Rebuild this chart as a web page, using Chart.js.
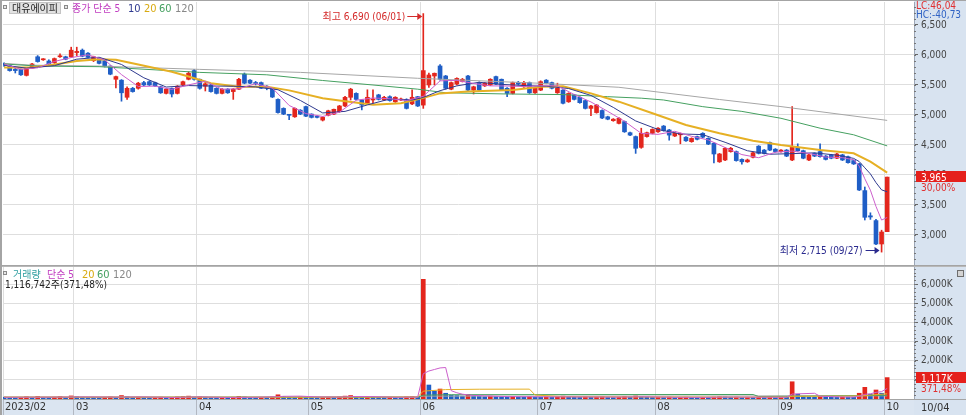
<!DOCTYPE html>
<html>
<head>
<meta charset="utf-8">
<title>대유에이피</title>
<script src="https://cdn.jsdelivr.net/npm/chart.js@4.4.1/dist/chart.umd.min.js"></script>
<style>
  body { margin: 0; background: #fff; }
  #wrap { position: relative; width: 966px; height: 415px; overflow: hidden; }
  canvas { position: absolute; left: 0; }
  #price { top: 0; }
  #volume { top: 266px; }
</style>
</head>
<body>
<div id="wrap">
  <canvas id="price" width="966" height="266"></canvas>
  <canvas id="volume" width="966" height="149"></canvas>
</div>
<script>
// daily candles, 2023-02-10 .. 2023-10-04 (one entry per trading day)
const priceOpen = [5860,5820,5760,5760,5660,5780,5970,5920,5900,5870,
  5970,5970,5970,6040,6080,6030,5905,5945,5905,5815,
  5595,5580,5295,5445,5445,5540,5555,5540,5470,5360,
  5445,5360,5500,5595,5740,5595,5480,5500,5445,5360,
  5430,5390,5430,5680,5580,5535,5540,5480,5445,5260,
  5110,5005,4970,5080,5140,5015,4980,4915,4995,5015,
  5055,5150,5295,5360,5250,5195,5250,5335,5250,5305,
  5220,5250,5260,5185,5305,5165,5500,5650,5817,5650,
  5430,5515,5560,5650,5415,5540,5485,5500,5640,5595,
  5445,5360,5540,5470,5540,5370,5415,5580,5540,5370,
  5415,5220,5335,5295,5240,5110,5040,5075,4970,4905,
  4860,4890,4705,4640,4460,4640,4695,4720,4815,4750,
  4650,4670,4630,4555,4640,4695,4610,4530,4220,4250,
  4390,4390,4260,4220,4295,4480,4415,4540,4430,4390,
  4415,4250,4460,4405,4250,4360,4390,4315,4335,4280,
  4335,4305,4240,4185,3740,3320,3240,2850,3055];
const priceHigh = [5870,5830,5790,5770,5790,5860,5990,5940,5920,5950,
  6020,5980,6130,6130,6100,6040,5980,5950,5910,5820,
  5650,5590,5470,5460,5545,5560,5570,5550,5480,5440,
  5450,5490,5565,5720,5760,5600,5560,5510,5455,5440,
  5440,5440,5610,5700,5590,5560,5550,5490,5450,5270,
  5120,5010,5120,5090,5150,5020,4990,4970,5080,5100,
  5160,5310,5445,5370,5260,5420,5420,5345,5310,5320,
  5305,5280,5270,5420,5310,6690,5700,5700,5840,5660,
  5550,5620,5610,5660,5480,5550,5540,5605,5650,5600,
  5455,5550,5560,5560,5550,5465,5570,5590,5550,5530,
  5425,5370,5345,5305,5250,5160,5175,5085,4980,4940,
  4955,4900,4715,4650,4780,4715,4770,4790,4825,4760,
  4705,4700,4640,4620,4650,4705,4620,4540,4360,4455,
  4460,4400,4270,4265,4380,4490,4425,4550,4440,4425,
  4425,5140,4520,4415,4345,4370,4520,4325,4345,4360,
  4345,4315,4250,4195,3800,3370,3260,3080,3965];
const priceLow = [5810,5730,5700,5660,5650,5770,5880,5910,5830,5860,
  5960,5920,5960,5990,5970,5950,5890,5850,5800,5670,
  5450,5230,5260,5380,5430,5490,5490,5475,5360,5350,
  5300,5350,5490,5585,5580,5430,5400,5380,5350,5350,
  5360,5260,5420,5520,5520,5500,5440,5420,5290,5030,
  5005,4920,4960,5005,4970,4950,4950,4900,4985,5005,
  5045,5140,5250,5250,5085,5180,5200,5250,5240,5230,
  5210,5240,5100,5170,5140,5110,5460,5500,5580,5430,
  5420,5500,5550,5400,5350,5400,5475,5490,5505,5405,
  5305,5350,5500,5460,5360,5360,5405,5520,5435,5360,
  5185,5210,5250,5195,5100,4990,5030,4940,4920,4895,
  4850,4710,4655,4360,4445,4630,4685,4710,4730,4580,
  4640,4520,4560,4545,4585,4620,4505,4200,4210,4240,
  4380,4230,4180,4210,4285,4350,4350,4405,4380,4380,
  4305,4240,4395,4270,4240,4305,4295,4250,4270,4270,
  4240,4195,4175,3740,3250,3260,2840,2715,3055];
const priceClose = [5830,5740,5740,5670,5780,5850,5890,5930,5850,5940,
  5985,5930,6080,6060,5980,5960,5970,5860,5815,5680,
  5640,5370,5445,5390,5530,5500,5500,5485,5370,5430,
  5350,5480,5555,5695,5595,5445,5520,5390,5360,5430,
  5370,5430,5595,5530,5530,5525,5445,5445,5300,5040,
  5015,4995,5110,5015,4980,4960,4960,4960,5070,5095,
  5150,5295,5430,5260,5165,5295,5265,5260,5295,5240,
  5295,5265,5110,5295,5150,5740,5667,5695,5595,5445,
  5540,5610,5595,5415,5470,5415,5530,5595,5515,5415,
  5360,5540,5515,5540,5370,5455,5555,5530,5445,5445,
  5195,5360,5260,5205,5110,5150,5165,4950,4930,4930,
  4945,4720,4665,4445,4695,4705,4760,4780,4740,4665,
  4695,4685,4570,4610,4595,4630,4515,4350,4350,4445,
  4445,4240,4220,4250,4370,4360,4360,4415,4390,4415,
  4315,4460,4405,4280,4335,4315,4305,4260,4280,4350,
  4250,4205,4185,3750,3295,3300,2850,3050,3965];
// volume in thousands of shares
const volume = [95,70,60,85,120,90,140,80,75,100,130,85,160,
  120,95,80,70,65,90,110,85,180,120,90,100,70,60,75,95,70,85,110,130,150,100,
  120,95,80,70,75,65,90,140,110,80,70,85,75,110,220,140,100,85,110,90,
  80,70,85,95,90,110,150,180,120,100,130,105,90,80,95,85,70,110,130,100,
  6245,730,420,520,300,200,180,150,230,160,140,120,150,130,110,100,140,110,95,120,100,
  90,110,85,100,150,120,95,85,110,90,100,130,85,75,90,140,100,160,120,95,85,
  90,80,100,75,85,95,80,70,90,85,100,120,110,95,100,80,90,85,110,95,100,80,
  110,100,900,250,140,110,95,130,100,90,85,110,100,95,300,610,250,470,300.62,
  1116.742];

// moving averages: [day index, value]
const ma5 = [[0,5850],[3,5760],[6,5786],[9,5892],[12,5957],[15,6002],[18,5917],[21,5673],[24,5475],[27,5481],
  [30,5427],[33,5502],[36,5562],[39,5429],[42,5437],[45,5522],[48,5449],[51,5159],[54,5023],[57,4975],
  [60,5047],[63,5246],[66,5283],[69,5271],[72,5241],[75,5312],[78,5569],[81,5577],[84,5526],[87,5485],
  [90,5483],[93,5474],[96,5487],[99,5486],[102,5341],[105,5217],[108,5061],[111,4895],[114,4694],[117,4677],
  [120,4728],[123,4645],[126,4584],[129,4458],[132,4340],[135,4288],[138,4379],[141,4399],[144,4359],[147,4299],
  [150,4289],[152,4254],[153,4148],[154,3937],[155,3747],[156,3476],[157,3249],[158,3292]];
const ma10 = [[0,5830],[4,5780],[9,5822],[13,5930],[17,5962],[21,5842],[25,5620],[29,5466],[33,5490],[37,5483],
  [41,5479],[45,5468],[49,5421],[53,5242],[57,5034],[61,5060],[65,5168],[69,5266],[73,5249],[75,5292],
  [78,5405],[81,5485],[85,5545],[89,5510],[93,5490],[97,5480],[101,5441],[105,5326],[109,5126],[113,4901],
  [117,4758],[121,4684],[125,4673],[129,4545],[133,4404],[137,4346],[141,4356],[145,4369],[149,4331],[152,4277],
  [153,4224],[154,4120],[155,4018],[156,3873],[157,3752],[158,3720]];
const ma20 = [[0,5790],[5,5790],[9,5840],[13,5900],[17,5930],[20,5920],[24,5840],[30,5720],[33,5640],[37,5530],
  [42,5470],[47,5470],[51,5410],[57,5280],[60,5240],[66,5170],[71,5195],[74,5260],[78,5360],[83,5390],
  [91,5415],[96,5470],[100,5480],[105,5360],[110,5222],[116,5028],[122,4833],[128,4695],[134,4572],[139,4500],
  [146,4417],[152,4361],[155,4222],[158,4040]];
const ma60 = [[0,5850],[6,5815],[17,5805],[35,5710],[47,5670],[57,5575],[66,5500],[74,5430],[79,5370],[90,5350],
  [100,5340],[108,5305],[114,5280],[118,5250],[125,5139],[132,5060],[139,4945],[146,4780],[152,4670],[158,4485]];
const ma120 = [[0,5860],[5,5830],[17,5815],[35,5760],[53,5710],[74,5612],[96,5528],[110,5462],[128,5258],[139,5140],[158,4910]];

const volMa5 = [[0,90],[5,95],[10,100],[15,110],[20,100],[25,110],[30,80],[35,110],[40,80],[45,90],[49,120],[50,140],
  [53,150],[56,110],[60,100],[63,130],[66,125],[70,90],[74,100],[75,1320],[76,1460],[77,1540],[78,1620],[79,1643],
  [80,434],[81,326],[82,252],[83,212],[84,184],[86,165],[90,125],[95,115],[100,110],[105,105],[110,100],[115,115],
  [120,90],[125,85],[130,100],[135,95],[140,90],[141,258],[145,299],[146,145],[150,105],[152,100],[153,138],
  [154,243],[155,271],[156,345],[157,386],[158,549]];
const volMa20 = [[0,100],[20,100],[40,95],[60,100],[74,105],[75,410],[79,490],[85,510],[94,515],[95,210],[100,120],
  [110,110],[130,95],[140,100],[141,140],[150,150],[153,160],[158,270]];
const volMa60 = [[0,90],[74,100],[75,200],[80,225],[100,230],[134,235],[135,130],[141,145],[158,190]];
const volMa120 = [[0,95],[74,100],[75,150],[120,155],[158,165]];

// axes
const monthStart = [13, 35, 55, 75, 96, 117, 139, 158];
const xTickLabels = ['2023/02', '03', '04', '05', '06', '07', '08', '09', '10'];
const priceTicks = [3000, 3500, 4000, 4500, 5000, 5500, 6000, 6500];
const volTicks = [1000, 2000, 3000, 4000, 5000, 6000];
const lastDate = '10/04';
const highDate = '06/01';
const lowDate = '09/27';
const stockName = '대유에이피';

const xMin = -0.2, xMax = 162.8;
const FONT = '"Liberation Sans Narrow", "DejaVu Sans Condensed", "Noto Sans CJK KR", sans-serif';
const RED = '#e3261d', BLUE = '#1f5ec6';
const PANEL = '#d8e3f0';
const GRID = '#dedede';
const C5 = '#cc5fcc', C10 = '#2f3a8f', C20 = '#e6b024', C60 = '#45a060', C120 = '#a6a6a6';

Chart.defaults.font.family = FONT;
Chart.defaults.font.size = 11;
Chart.defaults.color = '#444';

const fmt = v => Math.round(v).toLocaleString('en-US');
const dec = v => v.toFixed(2).replace('.', ',');

function label(ctx, s, x, y, color, size, align) {
  ctx.font = (size || 11) + 'px ' + FONT;
  ctx.fillStyle = color;
  ctx.textAlign = align || 'left';
  ctx.textBaseline = 'alphabetic';
  ctx.fillText(s, x, y);
}
function marker(ctx, x, y) {
  ctx.fillStyle = '#8a8a8a';
  ctx.fillRect(x, y, 4, 4);
  ctx.fillStyle = '#e6e6e6';
  ctx.fillRect(x + 1, y + 1, 2, 2);
}
function arrow(ctx, x0, x1, y, color) {
  ctx.strokeStyle = color;
  ctx.fillStyle = color;
  ctx.lineWidth = 1;
  ctx.beginPath();
  ctx.moveTo(x0, y + 0.5);
  ctx.lineTo(x1 - 3, y + 0.5);
  ctx.stroke();
  ctx.beginPath();
  ctx.moveTo(x1, y + 0.5);
  ctx.lineTo(x1 - 5, y - 3);
  ctx.lineTo(x1 - 5, y + 4);
  ctx.closePath();
  ctx.fill();
}
function minorTicks(ctx, scale, x, from, to, step) {
  ctx.fillStyle = '#777';
  for (let v = from; v <= to; v += step) {
    ctx.fillRect(x, Math.round(scale.getPixelForValue(v)), 2, 1);
  }
}
// keep the plot edges where the layout padding puts them
function noPad(s) {
  s.paddingTop = 0; s.paddingBottom = 0; s.paddingLeft = 0; s.paddingRight = 0;
}

const days = priceClose.map((_, i) => i);
const candleColor = days.map(i => priceClose[i] >= priceOpen[i] ? RED : BLUE);
const volColor = days.map(i => i > 0 && volume[i] >= volume[i - 1] ? RED : BLUE);
const pts = arr => arr.map(p => ({ x: p[0], y: p[1] }));
const line = (arr, color, w) => ({
  type: 'line', data: pts(arr), borderColor: color, borderWidth: w,
  pointRadius: 0, fill: false, tension: 0, order: 0
});

const last = priceClose.length - 1;
const hiIdx = priceHigh.indexOf(Math.max(...priceHigh));
const loIdx = priceLow.indexOf(Math.min(...priceLow));

const pricePanel = {
  id: 'pricePanel',
  beforeDraw(chart) {
    const { ctx, chartArea: a, width, height } = chart;
    ctx.save();
    ctx.fillStyle = PANEL;
    ctx.fillRect(a.right, 0, width - a.right, height);
    ctx.restore();
  },
  afterDraw(chart) {
    const { ctx, chartArea: a, width, scales: { x, y } } = chart;
    ctx.save();
    ctx.fillStyle = '#a4a4a4';
    ctx.fillRect(0, 0, width, 1);
    ctx.fillRect(0, 0, 2, chart.height);
    ctx.fillRect(0, a.bottom, width, 1);
    minorTicks(ctx, y, a.right, 2600, 6800, 100);

    // legend
    marker(ctx, 3, 5);
    ctx.fillStyle = '#e2e2e2';
    ctx.fillRect(9, 2, 52, 12);
    ctx.strokeStyle = '#c4c4c4';
    ctx.strokeRect(9.5, 2.5, 51, 11);
    label(ctx, stockName, 12, 12, '#222', 10);
    marker(ctx, 64, 5);
    label(ctx, '종가 단순 5', 72, 12, '#c03cc0', 10);
    label(ctx, '10', 128, 12, C10, 11);
    label(ctx, '20', 144, 12, '#d8aa10', 11);
    label(ctx, '60', 159, 12, C60, 11);
    label(ctx, '120', 175, 12, '#888', 11);

    // highest / lowest marks
    const hx = x.getPixelForValue(hiIdx), hy = y.getPixelForValue(priceHigh[hiIdx]);
    arrow(ctx, hx - 16, hx - 1, Math.round(hy + 2), '#d42a2a');
    label(ctx, '최고 ' + fmt(priceHigh[hiIdx]) + ' (' + highDate + ')', hx - 18, hy + 6, '#d42a2a', 10, 'right');
    const lx = x.getPixelForValue(loIdx), ly = y.getPixelForValue(priceLow[loIdx]);
    arrow(ctx, lx - 16, lx - 2, Math.round(ly - 2), '#2a2a8e');
    label(ctx, '최저 ' + fmt(priceLow[loIdx]) + ' (' + lowDate + ')', lx - 19, ly + 2, '#2a2a8e', 10, 'right');

    // right panel texts
    const lc = (priceClose[last] / priceLow[loIdx] - 1) * 100;
    const hc = (priceClose[last] / priceHigh[hiIdx] - 1) * 100;
    label(ctx, 'LC:' + dec(lc), 916, 9, '#e03030', 10);
    label(ctx, 'HC:' + dec(hc), 916, 18, '#2f62c4', 10);
    const cy = Math.round(y.getPixelForValue(priceClose[last]));
    ctx.fillStyle = '#e5201c';
    ctx.fillRect(a.right + 2, cy - 6, width - a.right - 2, 11);
    label(ctx, fmt(priceClose[last]), 921, cy + 4, '#fff', 10);
    const chg = (priceClose[last] / priceClose[last - 1] - 1) * 100;
    label(ctx, dec(chg) + '%', 921, cy + 14, '#e03030', 10);
    ctx.restore();
  }
};

new Chart(document.getElementById('price'), {
  type: 'bar',
  data: {
    datasets: [
      line(ma5, C5, 1),
      line(ma10, C10, 1),
      line(ma20, C20, 2),
      line(ma60, C60, 1),
      line(ma120, C120, 1),
      {
        type: 'bar', order: 1, grouped: false, barThickness: 4, minBarLength: 1,
        data: days.map(i => ({ x: i, y: [priceOpen[i], priceClose[i]] })),
        backgroundColor: candleColor
      },
      {
        type: 'bar', order: 2, grouped: false, barThickness: 1,
        data: days.map(i => ({ x: i, y: [priceLow[i], priceHigh[i]] })),
        backgroundColor: candleColor
      }
    ]
  },
  options: {
    responsive: false,
    animation: false,
    events: [],
    layout: { padding: { left: 3, top: 2, right: 0, bottom: 1 } },
    plugins: { legend: { display: false }, tooltip: { enabled: false } },
    scales: {
      x: {
        type: 'linear', min: xMin, max: xMax, offset: false,
        grid: { color: GRID, offset: false, drawTicks: false },
        border: { display: false },
        ticks: { display: false },
        afterBuildTicks: s => { s.ticks = monthStart.map(i => ({ value: i - 0.5 })); },
        afterFit: s => { s.height = 0; noPad(s); }
      },
      y: {
        position: 'right', min: 2500, max: 6883,
        grid: { color: GRID, tickLength: 4, tickColor: '#666' },
        border: { color: '#9ca6b6' },
        ticks: { padding: 3, color: '#444', font: { size: 10 }, callback: v => v.toLocaleString('en-US') },
        afterBuildTicks: s => { s.ticks = priceTicks.map(v => ({ value: v })); },
        afterFit: s => { s.width = 52; noPad(s); }
      }
    }
  },
  plugins: [pricePanel]
});

const volumePanel = {
  id: 'volumePanel',
  beforeDraw(chart) {
    const { ctx, chartArea: a, width, height } = chart;
    ctx.save();
    ctx.fillStyle = PANEL;
    ctx.fillRect(a.right, 0, width - a.right, height);
    ctx.fillStyle = '#dbe5f1';
    ctx.fillRect(0, a.bottom, a.right, height - a.bottom);
    ctx.restore();
  },
  afterDraw(chart) {
    const { ctx, chartArea: a, width, height, scales: { y } } = chart;
    ctx.save();
    ctx.fillStyle = '#b8b8b8';
    ctx.fillRect(0, 0, width, 1);
    ctx.fillStyle = '#a4a4a4';
    ctx.fillRect(0, 0, 2, height);
    ctx.fillRect(a.right, a.bottom, width - a.right, 1);
    minorTicks(ctx, y, a.right, 200, 6800, 200);

    marker(ctx, 3, 5);
    label(ctx, '거래량', 13, 12, '#2e9ea0', 10);
    label(ctx, '단순 5', 47, 12, '#c03cc0', 10);
    label(ctx, '20', 82, 12, '#d8aa10', 11);
    label(ctx, '60', 97, 12, C60, 11);
    label(ctx, '120', 113, 12, '#888', 11);
    const ratio = volume[last] / volume[last - 1] * 100;
    label(ctx, fmt(volume[last] * 1000) + '주(' + dec(ratio) + '%)', 5, 22, '#222', 10);

    // small panel button
    ctx.fillStyle = '#6e6e6e';
    ctx.fillRect(957, 4, 7, 7);
    ctx.fillStyle = '#d4d4d4';
    ctx.fillRect(958, 5, 5, 5);

    const vy = Math.round(y.getPixelForValue(volume[last]));
    ctx.fillStyle = '#e5201c';
    ctx.fillRect(a.right + 2, vy - 6, width - a.right - 2, 11);
    label(ctx, fmt(volume[last]) + 'K', 921, vy + 4, '#fff', 10);
    label(ctx, dec(ratio) + '%', 921, vy + 14, '#e03030', 10);

    label(ctx, lastDate, 921, height - 4, '#333', 11);
    ctx.restore();
  }
};

new Chart(document.getElementById('volume'), {
  type: 'bar',
  data: {
    datasets: [
      line(volMa5, C5, 1),
      line(volMa20, C20, 1),
      line(volMa60, C60, 1),
      line(volMa120, C120, 1),
      {
        type: 'bar', order: 1, grouped: false, barThickness: 4,
        data: days.map(i => ({ x: i, y: volume[i] })),
        backgroundColor: volColor
      }
    ]
  },
  options: {
    responsive: false,
    animation: false,
    events: [],
    layout: { padding: { left: 3, top: 1, right: 0, bottom: 0 } },
    plugins: { legend: { display: false }, tooltip: { enabled: false } },
    scales: {
      x: {
        type: 'linear', min: xMin, max: xMax, offset: false,
        grid: { color: GRID, offset: false, tickLength: 16, tickColor: '#b2b8c2' },
        border: { color: '#a4a4a4' },
        ticks: {
          autoSkip: false, maxRotation: 0, minRotation: 0, align: 'start',
          labelOffset: 2, padding: -14, color: '#333',
          callback: (v, i) => xTickLabels[i]
        },
        afterBuildTicks: s => {
          s.ticks = [{ value: xMin }].concat(monthStart.map(i => ({ value: i - 0.5 })));
        },
        afterFit: s => { s.height = 16; noPad(s); }
      },
      y: {
        position: 'right', min: 0, max: 6887,
        grid: { color: GRID, tickLength: 4, tickColor: '#666' },
        border: { color: '#9ca6b6' },
        ticks: { padding: 3, color: '#444', font: { size: 10 }, callback: v => v.toLocaleString('en-US') + 'K' },
        afterBuildTicks: s => { s.ticks = volTicks.map(v => ({ value: v })); },
        afterFit: s => { s.width = 52; noPad(s); }
      }
    }
  },
  plugins: [volumePanel]
});
</script>
</body>
</html>
